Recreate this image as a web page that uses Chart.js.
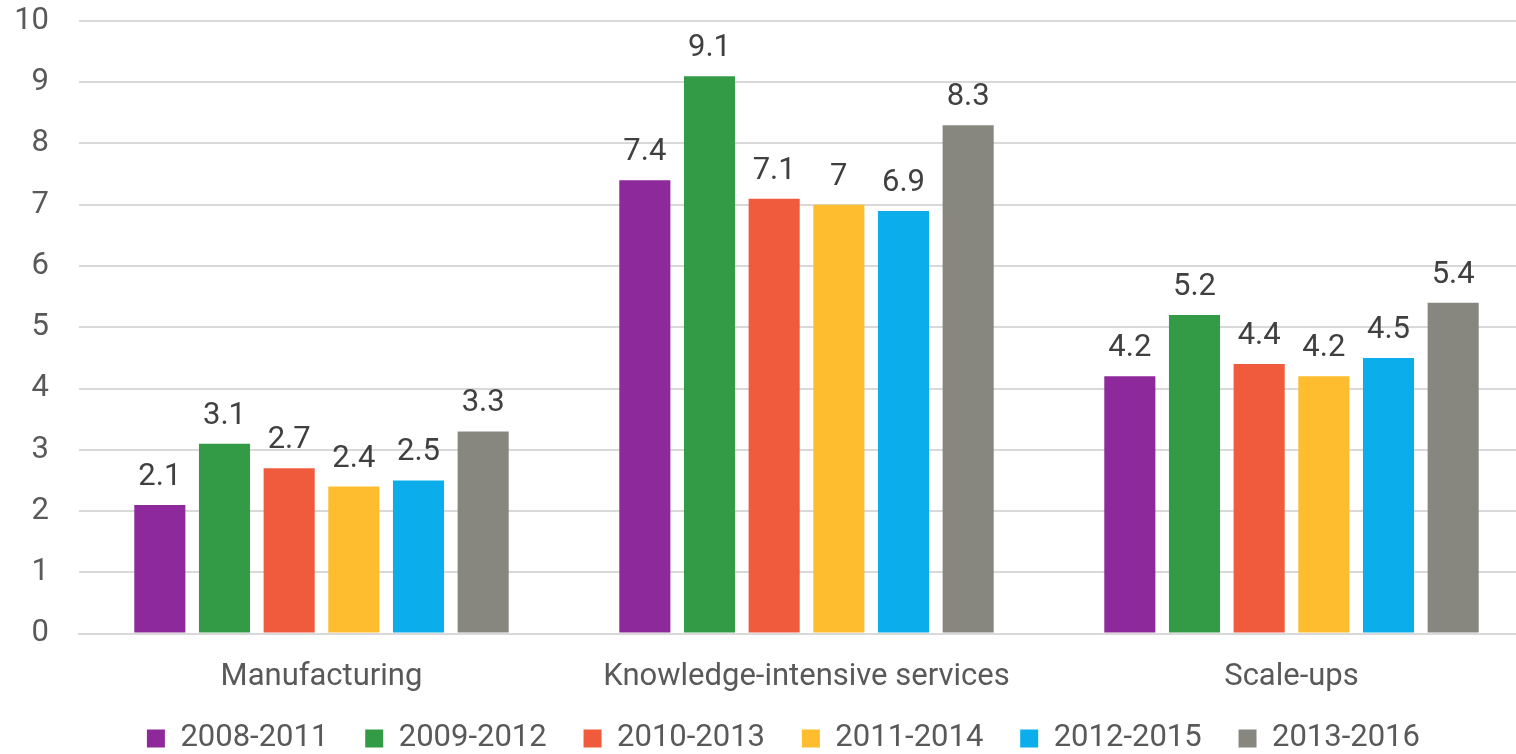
<!DOCTYPE html>
<html>
<head>
<meta charset="utf-8">
<script src="https://cdn.jsdelivr.net/npm/chart.js@4"></script>
<style>
  html, body { margin: 0; padding: 0; background: #fff; overflow: hidden; }
  /* the original plot area runs a little past the right edge of the crop */
  #wrap { width: 1534px; height: 754px; position: relative; }
</style>
</head>
<body>
<div id="wrap"><canvas id="chart"></canvas></div>
<script>
const categories = ['Manufacturing', 'Knowledge-intensive services', 'Scale-ups'];
const periods = ['2008-2011', '2009-2012', '2010-2013', '2011-2014', '2012-2015', '2013-2016'];
const colors = ['#8E299B', '#339B46', '#EF5B3C', '#FDBD2E', '#0BAEEB', '#878780'];

const v2008 = [2.1, 7.4, 4.2];
const v2009 = [3.1, 9.1, 5.2];
const v2010 = [2.7, 7.1, 4.4];
const v2011 = [2.4, 7.0, 4.2];
const v2012 = [2.5, 6.9, 4.5];
const v2013 = [3.3, 8.3, 5.4];
const seriesValues = [v2008, v2009, v2010, v2011, v2012, v2013];

const yTicks = [0, 1, 2, 3, 4, 5, 6, 7, 8, 9, 10];

// value labels above each bar
const barLabels = {
    id: 'barLabels',
    afterDatasetsDraw(chart) {
        const ctx = chart.ctx;
        ctx.save();
        ctx.font = '31px Roboto';
        ctx.fillStyle = '#404040';
        ctx.textAlign = 'center';
        ctx.textBaseline = 'alphabetic';
        chart.data.datasets.forEach((ds, i) => {
            chart.getDatasetMeta(i).data.forEach((bar, j) => {
                ctx.fillText(String(ds.data[j]), bar.x, bar.y - 20);
            });
        });
        ctx.restore();
    }
};

new Chart(document.getElementById('chart'), {
    type: 'bar',
    data: {
        labels: categories,
        datasets: periods.map((p, i) => ({
            label: p,
            data: seriesValues[i],
            backgroundColor: colors[i],
            categoryPercentage: 0.80,
            barPercentage: 0.79
        }))
    },
    options: {
        responsive: true,
        maintainAspectRatio: false,
        animation: false,
        layout: { padding: { top: 21, right: 0, left: 0, bottom: -10 } },
        scales: {
            x: {
                grid: { display: false, drawTicks: false },
                border: { display: true, color: '#d9d9d9', width: 2 },
                ticks: { color: '#595959', font: { family: 'Roboto', size: 31 }, padding: 25 },
                afterFit: (s) => { s.height = 68; s.paddingLeft = 0; s.paddingRight = 0; }
            },
            y: {
                min: 0,
                max: 10,
                afterBuildTicks: (axis) => { axis.ticks = yTicks.map(v => ({ value: v })); },
                afterFit: (s) => { s.width = 79; s.paddingTop = 0; s.paddingBottom = 0; },
                grid: { color: '#d9d9d9', lineWidth: 2, drawTicks: false },
                border: { display: false },
                ticks: { color: '#595959', font: { family: 'Roboto', size: 31 }, padding: 30 }
            }
        },
        plugins: {
            legend: {
                position: 'bottom',
                fullSize: false,
                labels: {
                    boxWidth: 18,
                    boxHeight: 18,
                    padding: 21.5,
                    color: '#595959',
                    font: { family: 'Roboto', size: 31 },
                    generateLabels: (chart) => Chart.defaults.plugins.legend.labels.generateLabels(chart)
                        .map((l, i, all) => Object.assign(l, { text: l.text + (i === all.length - 1 ? '      ' : '  ') }))
                }
            },
            tooltip: { enabled: false }
        }
    },
    plugins: [barLabels]
});
</script>
</body>
</html>
